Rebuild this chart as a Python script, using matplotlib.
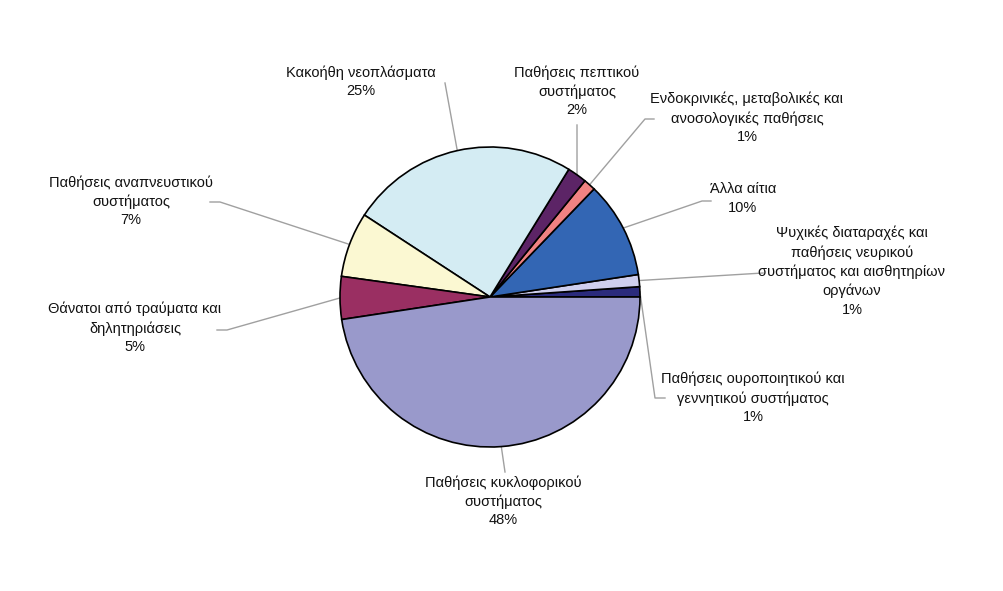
import numpy as np
import matplotlib
matplotlib.use("Agg")
import matplotlib.pyplot as plt

# slices in counter-clockwise order starting at 3 o'clock
labels = [
    "Παθήσεις ουροποιητικού και\nγεννητικού συστήματος",
    "Ψυχικές διαταραχές και\nπαθήσεις νευρικού\nσυστήματος και αισθητηρίων\nοργάνων",
    "Άλλα αίτια",
    "Ενδοκρινικές, μεταβολικές και\nανοσολογικές παθήσεις",
    "Παθήσεις πεπτικού\nσυστήματος",
    "Κακοήθη νεοπλάσματα",
    "Παθήσεις αναπνευστικού\nσυστήματος",
    "Θάνατοι από τραύματα και\nδηλητηριάσεις",
    "Παθήσεις κυκλοφορικού\nσυστήματος",
]
values = [1.1, 1.3, 10.4, 1.3, 2.1, 24.6, 7.0, 4.6, 47.6]
colors = ["#2b2b7c", "#cfcfee", "#3366b4", "#f08282", "#5c2466",
          "#d4ecf3", "#fbf8d2", "#9a2f62", "#9999cb"]

# label centre x and top y of the text block, plus elbow points of leader lines (pixels)
label_pos = [(753, 372), (852, 226), (743, 182), (747, 92), (577, 65),
             (361, 65), (131, 175), (135, 302), (503, 475)]
elbows = [[(665, 398), (655, 398)], [(763, 273)], [(711, 201), (702, 201)],
          [(654, 119), (645, 119)], [(577, 125)], [(445, 83)],
          [(210, 202), (220, 202)], [(217, 330), (227, 330)], [(505, 472)]]

W, H = 1004, 591
fig = plt.figure(figsize=(W / 100, H / 100), dpi=100)
ax = fig.add_axes([0, 0, 1, 1])

cx, cy, r = 490, H - 297, 150
wedges, _ = ax.pie(values, colors=colors, startangle=0, counterclock=True,
                   center=(cx, cy), radius=r, frame=True,
                   wedgeprops=dict(edgecolor="black", linewidth=1.2))
ax.set_xlim(0, W)
ax.set_ylim(0, H)
ax.set_aspect("equal")
ax.axis("off")

total = sum(values)
for w, lab, v, (tx, ty), elb in zip(wedges, labels, values, label_pos, elbows):
    # leader line ends on the pie edge at the slice's middle angle
    mid = np.deg2rad((w.theta1 + w.theta2) / 2)
    px, py = cx + r * np.cos(mid), cy + r * np.sin(mid)
    pts = [(x, H - y) for x, y in elb] + [(px, py)]
    ax.plot([p[0] for p in pts], [p[1] for p in pts], color="#a0a0a0",
            lw=1.0, zorder=0)
    txt = lab + "\n" + f"{round(v / total * 100):.0f}%"
    ax.text(tx, H - ty, txt, ha="center", va="top",
            fontsize=10.5, family="Liberation Sans", linespacing=1.42,
            color="#111111")

fig.savefig("out.png", dpi=100)
